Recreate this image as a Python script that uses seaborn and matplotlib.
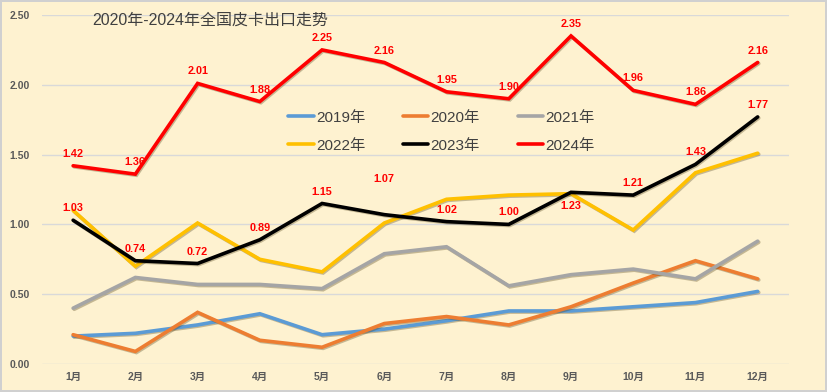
import matplotlib
matplotlib.use("Agg")
import matplotlib.pyplot as plt
import matplotlib.patheffects as pe
import seaborn as sns
import pandas as pd
import numpy as np

months = ["1月", "2月", "3月", "4月", "5月", "6月", "7月", "8月", "9月", "10月", "11月", "12月"]
years = ["2019年", "2020年", "2021年", "2022年", "2023年", "2024年"]
v2019 = [0.20, 0.22, 0.28, 0.36, 0.21, 0.25, 0.31, 0.38, 0.38, 0.41, 0.44, 0.52]
v2020 = [0.21, 0.09, 0.37, 0.17, 0.12, 0.29, 0.34, 0.28, 0.41, 0.58, 0.74, 0.61]
v2021 = [0.40, 0.62, 0.57, 0.57, 0.54, 0.79, 0.84, 0.56, 0.64, 0.68, 0.61, 0.88]
v2022 = [1.10, 0.70, 1.01, 0.75, 0.66, 1.01, 1.18, 1.21, 1.22, 0.96, 1.37, 1.51]
v2023 = [1.03, 0.74, 0.72, 0.89, 1.15, 1.07, 1.02, 1.00, 1.23, 1.21, 1.43, 1.77]
v2024 = [1.42, 1.36, 2.01, 1.88, 2.25, 2.16, 1.95, 1.90, 2.35, 1.96, 1.86, 2.16]
colors = ["#5B9BD5", "#ED7D31", "#A5A5A5", "#FFC000", "#000000", "#FF0000"]
title = "2020年-2024年全国皮卡出口走势"
yticks = [0.0, 0.5, 1.0, 1.5, 2.0, 2.5]

# label offsets in points (style only)
off2024 = [5] * 12
off2023 = [5, 5, 5, 5, 5, 22, 5, 5, -6, 5, 5, 5]

sns.set_theme(style="white")
plt.rcParams["font.family"] = ["Liberation Sans", "Noto Sans CJK SC", "DejaVu Sans"]

bg = "#FEF2D0"
fig = plt.figure(figsize=(8.27, 3.92), dpi=100, facecolor=bg)
fig.patch.set_edgecolor("#D0D0D0")
fig.patch.set_linewidth(1.5)
ax = fig.add_axes([0.0508, 0.0714, 0.903, 0.8903])
ax.set_facecolor(bg)

series = [v2019, v2020, v2021, v2022, v2023, v2024]
rows = []
for y, vals in zip(years, series):
    for i, v in enumerate(vals):
        rows.append({"x": i, "value": v, "year": y})
df = pd.DataFrame(rows)

sns.lineplot(data=df, x="x", y="value", hue="year", hue_order=years,
             palette=colors, linewidth=2.6, ax=ax, legend=True, zorder=3)
for line in ax.lines:
    line.set_path_effects([pe.SimpleLineShadow(offset=(0.8, -0.8), shadow_color="#5a4a20", alpha=0.35),
                           pe.Normal()])
    line.set_solid_joinstyle("miter")

for vals, offs in ((v2024, off2024), (v2023, off2023)):
    for i, v in enumerate(vals):
        ax.annotate(f"{v:.2f}", (i, v), xytext=(0, offs[i]), textcoords="offset points",
                    ha="center", va="bottom" if offs[i] > 0 else "top",
                    color="#FF0000", fontsize=7.8, fontweight="bold", zorder=5)

ax.set_xlim(-0.5, 11.5)
ax.set_ylim(0, 2.5)
ax.set_xticks(range(12))
ax.set_xticklabels(months)
ax.set_yticks(yticks)
ax.set_yticklabels([f"{t:.2f}" for t in yticks])
ax.tick_params(axis="both", length=0, labelsize=7.5, labelcolor="#595959")
for lab in ax.get_xticklabels() + ax.get_yticklabels():
    lab.set_fontweight("bold")
ax.tick_params(axis="x", pad=6)
ax.tick_params(axis="y", pad=9)
ax.grid(axis="y", color="#D9D9D9", linewidth=1.0, zorder=0)
ax.grid(axis="x", visible=False)
for s in ax.spines.values():
    s.set_visible(False)
ax.set_xlabel("")
ax.set_ylabel("")

handles, labels = ax.get_legend_handles_labels()
order = [0, 3, 1, 4, 2, 5]  # row-wise fill for 3 columns
handles = [handles[i] for i in order]
labels = [labels[i] for i in order]
leg = ax.legend(handles, labels, ncol=3, loc="center", bbox_to_anchor=(0.534, 0.664),
                bbox_transform=fig.transFigure, frameon=False, fontsize=11,
                handlelength=1.65, handletextpad=0.15, columnspacing=2.5, labelspacing=0.9)
for t in leg.get_texts():
    t.set_color("#404040")
for h in leg.legend_handles:
    h.set_linewidth(2.6)
    h.set_path_effects([])

fig.text(0.112, 0.949, title, fontsize=11.5, color="#404040", ha="left", va="center")

fig.savefig("out.png", dpi=100, facecolor=bg, edgecolor=fig.patch.get_edgecolor())
